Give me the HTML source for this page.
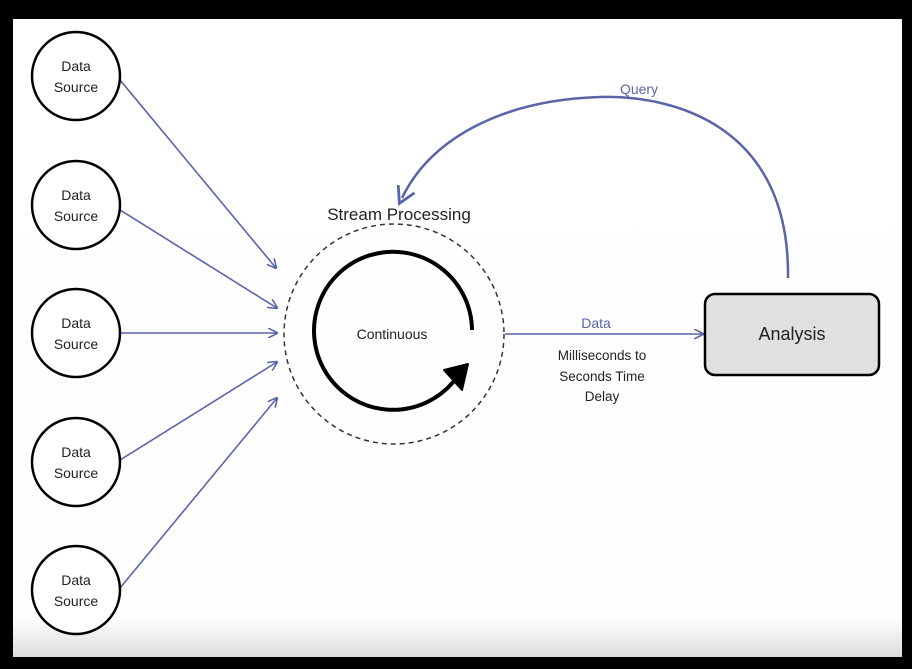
<!DOCTYPE html>
<html><head><style>
body{margin:0;background:#000;}
svg{display:block}
text{font-family:"Liberation Sans",sans-serif;fill:#222}
</style></head><body>
<svg width="912" height="669" viewBox="0 0 912 669">
<defs>
<linearGradient id="g" x1="0" y1="0" x2="0" y2="1">
<stop offset="0" stop-color="#fff"/><stop offset="0.94" stop-color="#fefefe"/><stop offset="1" stop-color="#dcdcdc"/>
</linearGradient>
<marker id="a" markerWidth="10" markerHeight="10" refX="9" refY="5" orient="auto" markerUnits="userSpaceOnUse">
<path d="M0,0 L10,5 L0,10" fill="none" stroke="#5a64a8" stroke-width="1.6"/>
</marker>
<marker id="b" markerWidth="24" markerHeight="24" refX="12" refY="12" orient="auto" markerUnits="userSpaceOnUse">
<path d="M2,3 L18,12 L2,21" fill="none" stroke="#5a64a8" stroke-width="2.8"/>
</marker>
</defs>
<rect x="13" y="19" width="889" height="638" fill="url(#g)"/>
<g stroke="#5a64a8" stroke-width="1.6" fill="none" marker-end="url(#a)">
<line x1="120" y1="80" x2="276" y2="268"/>
<line x1="120" y1="210" x2="277" y2="308"/>
<line x1="120" y1="333" x2="277" y2="333"/>
<line x1="120" y1="460" x2="277" y2="362"/>
<line x1="120" y1="588" x2="277" y2="398"/>
<line x1="505" y1="334" x2="703" y2="334"/>
</g>
<path d="M788,278 C790,130 680,95 600,97 C500,100 430,140 402,198" fill="none" stroke="#5a64a8" stroke-width="2.5" marker-end="url(#b)"/>
<g stroke="#000" stroke-width="2.5" fill="#fff">
<circle cx="76" cy="76" r="44"/><circle cx="76" cy="205" r="44"/><circle cx="76" cy="333" r="44"/><circle cx="76" cy="462" r="44"/><circle cx="76" cy="590" r="44"/>
</g>
<g font-size="14" text-anchor="middle">
<text x="76" y="71">Data</text><text x="76" y="92">Source</text>
<text x="76" y="200">Data</text><text x="76" y="221">Source</text>
<text x="76" y="328">Data</text><text x="76" y="349">Source</text>
<text x="76" y="457">Data</text><text x="76" y="478">Source</text>
<text x="76" y="585">Data</text><text x="76" y="606">Source</text>
</g>
<circle cx="394" cy="334" r="110" fill="none" stroke="#333" stroke-width="1.5" stroke-dasharray="5,4"/>
<path d="M472,330 A79,79 0 1 0 454,381" fill="none" stroke="#000" stroke-width="4"/>
<path d="M444,370 L468,364 L462,390 Z" fill="#000" stroke="#000" stroke-width="2" stroke-linejoin="round"/>
<text x="392" y="339" font-size="14" text-anchor="middle">Continuous</text>
<text x="399" y="220" font-size="17" text-anchor="middle">Stream Processing</text>
<rect x="705" y="294" width="174" height="81" rx="10" fill="#e0e0e0" stroke="#000" stroke-width="2.5"/>
<text x="792" y="340" font-size="18" text-anchor="middle">Analysis</text>
<text x="596" y="328" font-size="14" text-anchor="middle" style="fill:#5a64a8">Data</text>
<g font-size="13.5" text-anchor="middle">
<text x="602" y="360">Milliseconds to</text>
<text x="602" y="381">Seconds Time</text>
<text x="602" y="401">Delay</text>
</g>
<text x="639" y="94" font-size="14" text-anchor="middle" style="fill:#5a64a8">Query</text>
</svg>
</body></html>
